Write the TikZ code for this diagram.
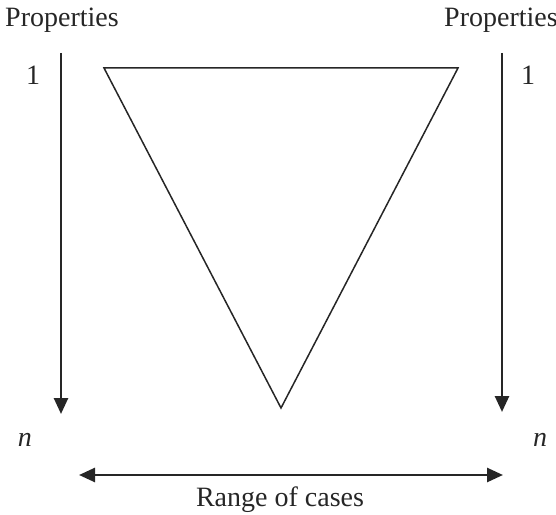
\documentclass[tikz,border=0pt]{standalone}
\usepackage{fontspec}
\setmainfont{Liberation Serif}
\usetikzlibrary{arrows.meta}
\tikzset{
  prop arrow/.style={
    -{Triangle[length=8pt,width=7pt]},
    line width=1.3pt,
    color=black!85
  },
  range arrow/.style={
    {Triangle[length=8pt,width=7pt]}-{Triangle[length=8pt,width=7pt]},
    line width=1.3pt,
    color=black!85
  },
  funnel/.style={
    draw=black!85,
    line width=0.75pt
  },
  label text/.style={
    font=\fontsize{14pt}{16pt}\selectfont,
    text=black!85,
    inner sep=0pt
  }
}

\begin{document}
\begin{tikzpicture}[x=0.5pt, y=0.5pt]
    \useasboundingbox (0,0) rectangle (556,514);

    % titles of the two property axes
    \node[label text] (propL) at (62,494) {Properties};
    \node[label text] (propR) at (501,494) {Properties};

    % end marks
    \node[label text] (oneL) at (33,439) {1};
    \node[label text] (oneR) at (528,439) {1};
    \node[label text] (nL) at (25,74) {\textit{n}};
    \node[label text] (nR) at (540,74) {\textit{n}};

    % property axes
    \coordinate (topL) at (61,461);
    \coordinate (botL) at (61,100);
    \coordinate (topR) at (502,461);
    \coordinate (botR) at (502,102);
    \draw[prop arrow] (topL) -- (botL);
    \draw[prop arrow] (topR) -- (botR);

    % inverted triangle
    \coordinate (triL) at (104,446);
    \coordinate (triR) at (458,446);
    \coordinate (triB) at (281,106);
    \draw[funnel] (triL) -- (triR) -- (triB) -- cycle;

    % range of cases
    \coordinate (rangeL) at (79,39);
    \coordinate (rangeR) at (503,39);
    \draw[range arrow] (rangeL) -- (rangeR);
    \node[label text] (range) at (280,14) {Range of cases};

\end{tikzpicture}
\end{document}
